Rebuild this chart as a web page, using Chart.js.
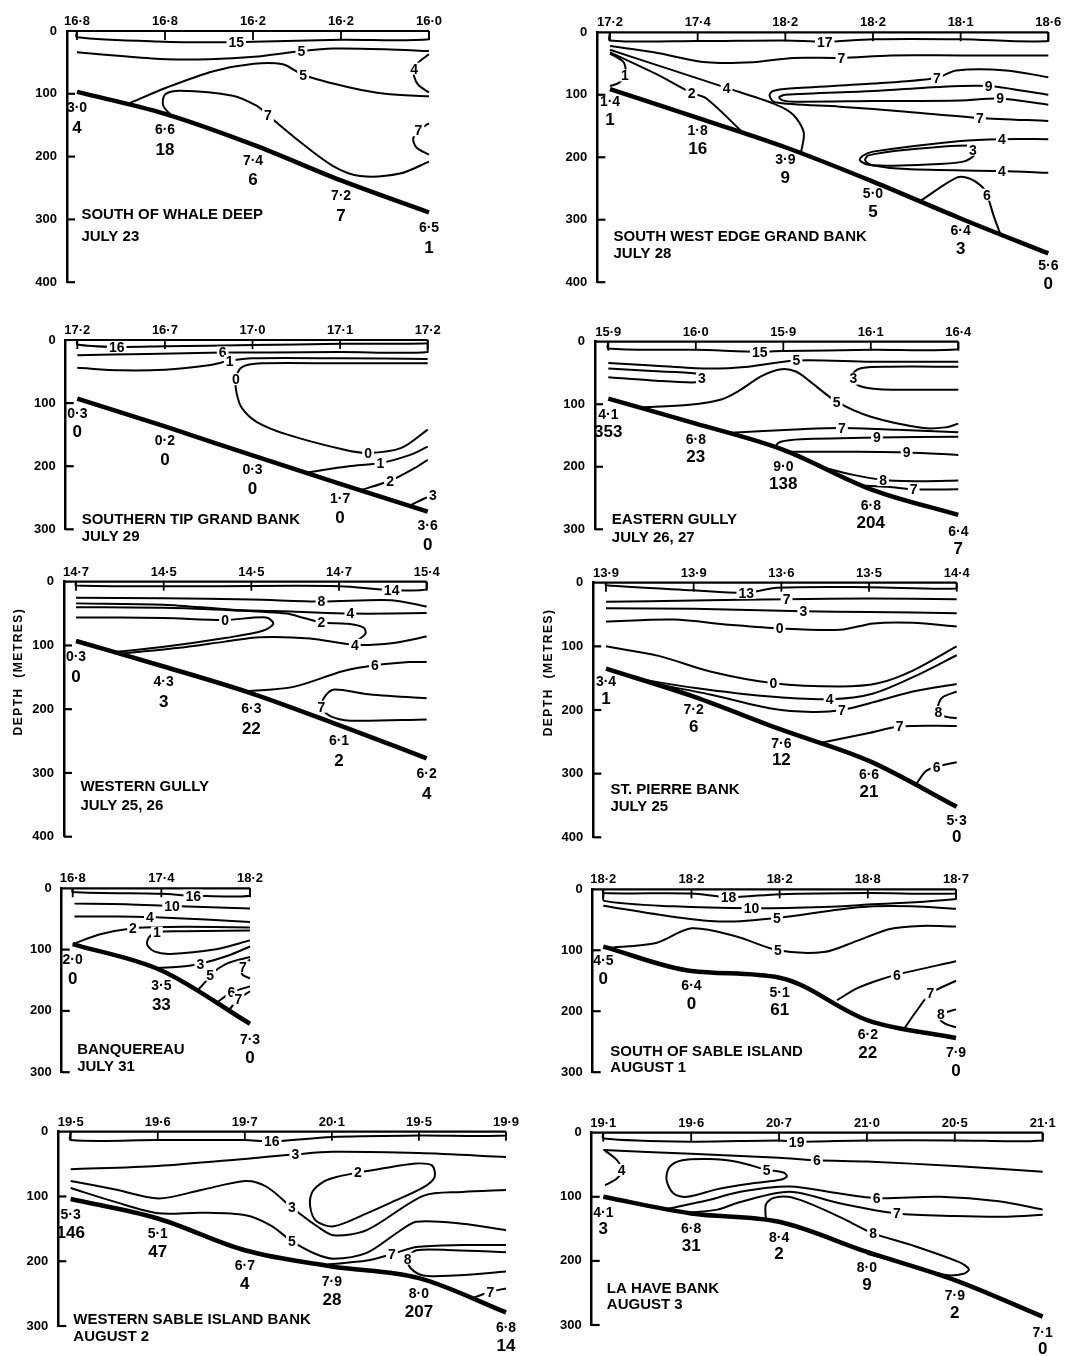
<!DOCTYPE html>
<html>
<head>
    <meta charset="utf-8">
    <title>Temperature sections</title>
    <script src="https://cdn.jsdelivr.net/npm/chart.js"></script>
    <style>
        body { margin: 0; background: #fff; }
        #page { position: relative; width: 1078px; height: 1356px; background: #fff; }
        canvas { position: absolute; }
    </style>
</head>
<body>
<div id="page"></div>
<script>
// South of Whale Deep
const whaleSurface = ['16·8', '16·8', '16·2', '16·2', '16·0'];
const whaleBottom = [97, 132, 181, 238, 289];
const whaleTemp = ['3·0', '6·6', '7·4', '7·2', '6·5'];
const whaleCount = ['4', '18', '6', '7', '1'];
const whaleLines = [
    {v: '15', at: [3], pts: [[0,0],[0,10],[1,17],[1.81,18],[2,17],[3,14],[4,13],[4,0]]},
    {v: '5', at: [5], pts: [[0,34],[0.5,40],[1.02,45],[1.5,45],[2.01,41],[2.55,32],[2.91,28],[3.5,29],[4,32]]},
    {v: '4', at: [2], pts: [[4,37],[3.88,50],[3.83,60],[3.83,72],[3.88,86],[4,98]]},
    {v: '5', at: [5], pts: [[0.58,116],[1.02,90],[1.55,64],[2.01,52],[2.34,53],[2.57,70],[3.1,90],[3.5,100],[4,104]]},
    {v: '7', at: [6], pts: [[1.09,137],[0.98,119],[1.0,101],[1.17,95],[1.77,103],[2.04,119],[2.17,134],[2.53,176],[2.91,215],[3.22,231],[3.67,227],[4,208]]},
    {v: '7', at: [1], pts: [[4,147],[3.88,158],[3.82,172],[3.86,186],[4,197]]}
];

// South West Edge Grand Bank
const swSurface = ['17·2', '17·4', '18·2', '18·2', '18·1', '18·6'];
const swBottom = [91, 137, 184, 239, 298, 354];
const swTemp = ['1·4', '1·8', '3·9', '5·0', '6·4', '5·6'];
const swCount = ['1', '16', '9', '5', '3', '0'];
const swLines = [
    {v: '17', at: [4], pts: [[0,0],[0,13],[1,14],[2,13],[2.45,15],[3,11],[4,11],[5,14],[5,0]]},
    {v: '7', at: [5], pts: [[0,22],[0.5,32],[1.1,48],[1.63,48],[2.09,41],[2.64,41],[3.2,37],[4,37],[5,37]]},
    {v: '1', at: [3], pts: [[0,34],[0.15,47],[0.18,60],[0.17,69],[0.1,81],[0,86]]},
    {v: '4', at: [2], pts: [[0,28],[0.72,61],[1.33,89],[1.88,115],[2.09,132],[2.21,160],[2.18,192]]},
    {v: '2', at: [2], pts: [[0,32],[0.53,67],[0.93,97],[1.1,106],[1.52,161]]},
    {v: '7', at: [3, 11], pts: [[5,72],[4.52,61],[3.95,61],[3.73,73],[3.0,82],[2.05,90],[1.86,94],[1.82,101],[1.88,112],[2.62,119],[3.38,127],[4.22,137],[5,142]]},
    {v: '9', at: [2, 11], pts: [[5,100],[4.6,91],[4.32,86],[3.8,87],[3.0,94],[2.0,100],[1.93,104],[1.97,109],[2.1,111],[3.0,110],[4.0,109],[4.45,106],[5,116]]},
    {v: '4', at: [1, 8], pts: [[5,171],[4.47,171],[4.0,174],[3.0,191],[2.88,198],[2.85,205],[2.95,212],[3.38,219],[4.47,222],[5,225]]},
    {v: '3', at: [0], pts: [[4.14,188],[4.09,181],[3.38,188],[2.95,197],[2.91,205],[3.0,213],[3.57,212],[4.03,207],[4.16,196],[4.14,188]]},
    {v: '6', at: [4], pts: [[3.54,270],[3.95,233],[4.1,234],[4.25,248],[4.3,260],[4.38,295],[4.45,322]]}
];

// Southern Tip Grand Bank
const stSurface = ['17·2', '16·7', '17·0', '17·1', '17·2'];
const stBottom = [93, 137, 183, 228, 272];
const stTemp = ['0·3', '0·2', '0·3', '1·7', '3·6'];
const stCount = ['0', '0', '0', '0', '0'];
const stLines = [
    {v: '16', at: [2], pts: [[0,0],[0,7],[0.45,11],[1,10],[2,8],[3,6],[4,5],[4,0]]},
    {v: '6', at: [2], pts: [[0,24],[0.8,22],[1.66,20],[2.2,20],[3,19],[4,19],[4,6]]},
    {v: '1', at: [4], pts: [[0,44],[0.5,48],[1,47],[1.5,40],[1.74,33],[2,29],[3,29],[4,30]]},
    {v: '0', at: [4, 10], pts: [[4,37],[3,37],[2.1,37],[1.88,43],[1.81,62],[1.82,85],[1.88,108],[2.05,130],[2.4,150],[3.05,174],[3.32,179],[3.7,171],[4,142]]},
    {v: '1', at: [2], pts: [[2.62,210],[3.1,200],[3.46,195],[3.8,182],[4,169]]},
    {v: '2', at: [1], pts: [[3.23,238],[3.57,223],[3.85,203],[4,190]]},
    {v: '3', at: [2], pts: [[3.8,262],[3.95,252],[4.06,246]]}
];

// Eastern Gully
const egSurface = ['15·9', '16·0', '15·9', '16·1', '16·4'];
const egBottom = [91, 131, 173, 236, 277];
const egTemp = ['4·1', '6·8', '9·0', '6·8', '6·4'];
const egCount = ['353', '23', '138', '204', '7'];
const egLines = [
    {v: '15', at: [3], pts: [[0,0],[0,11],[1,13],[1.73,16],[2,15],[3,13],[4,12],[4,0]]},
    {v: '5', at: [4], pts: [[0,34],[0.5,38],[1.12,43],[1.6,40],[2.15,30],[3,32],[4,32]]},
    {v: '3', at: [3], pts: [[0,43],[0.5,47],[1.0,51],[1.07,59],[1.0,65],[0.5,62],[0,57]]},
    {v: '3', at: [4], pts: [[4,40],[3.2,40],[2.9,42],[2.8,50],[2.8,59],[2.86,70],[3.1,76],[4,77]]},
    {v: '5', at: [8], pts: [[0.36,105],[0.93,101],[1.3,92],[1.5,78],[1.75,55],[1.98,44],[2.15,48],[2.3,63],[2.61,96],[3.0,120],[3.6,138],[3.85,137],[4,131]]},
    {v: '7', at: [2], pts: [[1.35,146],[2.2,140],[2.67,138],[3.3,141],[4,145]]},
    {v: '9', at: [1], pts: [[4,152],[3.07,153],[2.2,156],[1.97,160],[1.92,166],[1.96,172]]},
    {v: '9', at: [2], pts: [[2.05,176],[2.8,176],[3.41,177],[4,181]]},
    {v: '8', at: [2], pts: [[2.4,199],[2.8,213],[3.14,221],[3.6,223],[4,222]]},
    {v: '7', at: [2], pts: [[2.9,230],[3.2,232],[3.49,236],[4,236]]}
];

// Western Gully
const wgSurface = ['14·7', '14·5', '14·5', '14·7', '15·4'];
const wgBottom = [93, 133, 175, 225, 277];
const wgTemp = ['0·3', '4·3', '6·3', '6·1', '6·2'];
const wgCount = ['0', '3', '22', '2', '4'];
const wgLines = [
    {v: '14', at: [4], pts: [[0,0],[0,6],[1.5,7],[3,7],[3.6,13],[4,12],[4,0]]},
    {v: '8', at: [3], pts: [[0,25],[1,26],[2,28],[2.8,31],[3.6,29],[4,39]]},
    {v: '4', at: [4], pts: [[0,34],[1,36],[1.79,44],[2.5,47],[3.13,50],[3.6,50],[4,49]]},
    {v: '2', at: [5], pts: [[0,40],[1,41],[1.8,45],[2.4,50],[2.6,57],[2.8,64],[3.1,66],[3.28,72],[3.3,82],[3.15,97]]},
    {v: '0', at: [2], pts: [[0,56],[1,57],[1.7,60],[2.17,56],[2.25,66],[2.13,77],[1.72,88],[0.96,103],[0.46,110]]},
    {v: '4', at: [5], pts: [[0.5,113],[1.15,104],[1.7,94],[2.1,87],[2.67,89],[3.18,99],[3.62,96],[4,86]]},
    {v: '6', at: [3], pts: [[1.95,172],[2.48,165],[3.05,140],[3.41,131],[3.8,126],[4,126]]},
    {v: '7', at: [4], pts: [[4,183],[3.3,176],[2.95,169],[2.85,178],[2.8,196],[2.9,211],[3.13,218],[4,216]]}
];

// St. Pierre Bank
const spSurface = ['13·9', '13·9', '13·6', '13·5', '14·4'];
const spBottom = [135, 179, 231, 280, 352];
const spTemp = ['3·4', '7·2', '7·6', '6·6', '5·3'];
const spCount = ['1', '6', '12', '21', '0'];
const spLines = [
    {v: '13', at: [3], pts: [[0,0],[0,4],[1,12],[1.6,16],[1.95,8],[3,7],[4,9],[4,0]]},
    {v: '7', at: [2], pts: [[0,30],[1,28],[2.06,26],[3,25],[4,26]]},
    {v: '3', at: [2], pts: [[0,40],[1,41],[2.25,45],[3,46],[4,48]]},
    {v: '0', at: [3], pts: [[0,61],[0.77,58],[1.4,66],[1.98,72],[2.67,74],[3.05,64],[3.5,63],[4,69]]},
    {v: '0', at: [3], pts: [[0,100],[0.6,115],[1.2,140],[1.91,158],[2.67,163],[3.1,158],[3.5,138],[4,100]]},
    {v: '4', at: [3], pts: [[0.4,152],[1,165],[1.8,178],[2.55,183],[3.05,174],[3.6,142],[4,114]]},
    {v: '7', at: [4], pts: [[0.5,157],[1.2,176],[1.9,198],[2.35,203],[2.69,200],[3.1,186],[3.5,171],[4,159]]},
    {v: '8', at: [3], pts: [[4,171],[3.84,180],[3.79,192],[3.79,203],[3.86,210],[4,213]]},
    {v: '7', at: [2], pts: [[2.44,252],[3.0,236],[3.35,226],[4,225]]},
    {v: '6', at: [2], pts: [[3.54,316],[3.65,296],[3.77,289],[4,282]]}
];

// Banquereau
const bqSurface = ['16·8', '17·4', '18·2'];
const bqBottom = [91, 134, 221];
const bqTemp = ['2·0', '3·5', '7·3'];
const bqCount = ['0', '33', '0'];
const bqLines = [
    {v: '16', at: [3], pts: [[0,0],[0,6],[1,9],[1.36,12],[2,12],[2,0]]},
    {v: '10', at: [2], pts: [[0.02,25],[0.6,26],[1.12,29],[2,33]]},
    {v: '4', at: [2], pts: [[0.02,46],[0.5,46],[0.87,47],[1.5,51],[2,55]]},
    {v: '2', at: [2], pts: [[0,91],[0.31,75],[0.68,65],[1.06,63],[1.6,63],[2,64]]},
    {v: '1', at: [2], pts: [[2,69],[1.2,70],[0.95,72],[0.86,80],[0.84,92],[0.92,103],[1.1,107],[1.6,100],[2,85]]},
    {v: '3', at: [2], pts: [[0.91,130],[1.2,128],[1.44,123],[1.75,110],[2,95]]},
    {v: '5', at: [2], pts: [[1.4,168],[1.5,152],[1.55,141],[1.75,122],[2,112]]},
    {v: '7', at: [1], pts: [[2,116],[1.92,128],[1.91,140],[2,147]]},
    {v: '6', at: [1], pts: [[1.62,187],[1.79,170],[2,160]]},
    {v: '7', at: [1], pts: [[1.76,199],[1.87,181],[2,168]]}
];

// South of Sable Island
const ssSurface = ['18·2', '18·2', '18·2', '18·8', '18·7'];
const ssBottom = [94, 134, 145, 215, 244];
const ssTemp = ['4·5', '6·4', '5·1', '6·2', '7·9'];
const ssCount = ['0', '0', '61', '22', '0'];
const ssLines = [
    {v: '18', at: [3], pts: [[0,0],[0,6],[1,7],[1.42,13],[2,8],[3,6],[4,7],[4,0]]},
    {v: '10', at: [3], pts: [[0,6],[0.01,19],[0.8,28],[1.68,31],[2.5,29],[3,25],[4,16],[4,7]]},
    {v: '5', at: [3], pts: [[0,27],[0.79,45],[1.36,53],[1.97,47],[2.68,33],[3.06,28],[3.5,28],[4,32]]},
    {v: '5', at: [4], pts: [[0.04,96],[0.6,88],[1.0,64],[1.5,77],[1.98,100],[2.5,103],[2.87,85],[3.25,65],[3.6,60],[4,61]]},
    {v: '6', at: [3], pts: [[2.65,182],[2.87,163],[3.1,150],[3.33,140],[4,118]]},
    {v: '7', at: [2], pts: [[3.42,227],[3.55,200],[3.71,171],[4,150]]},
    {v: '8', at: [1], pts: [[4,197],[3.83,205],[3.82,214],[3.9,222],[4,226]]}
];

// Western Sable Island Bank
const wsSurface = ['19·5', '19·6', '19·7', '20·1', '19·5', '19·9'];
const wsBottom = [104, 134, 183, 208, 226, 279];
const wsTemp = ['5·3', '5·1', '6·7', '7·9', '8·0', '6·8'];
const wsCount = ['146', '47', '4', '28', '207', '14'];
const wsLines = [
    {v: '16', at: [4], pts: [[0,0],[0,13],[1,13],[2,13],[2.31,15],[3,8],[4,6],[5,6],[5,0]]},
    {v: '3', at: [3], pts: [[0,58],[1,53],[2,42],[2.58,35],[3,31],[4,33],[5,39]]},
    {v: '2', at: [0], pts: [[3.3,63],[3.7,54],[3.97,49],[4.15,52],[4.18,70],[4.05,86],[3.7,108],[3.4,126],[3.02,146],[2.82,138],[2.75,115],[2.78,92],[2.92,76],[3.05,70],[3.3,63]]},
    {v: '3', at: [6], pts: [[0,76],[0.5,89],[1.01,103],[1.5,90],[2.01,76],[2.25,85],[2.54,117],[2.83,146],[3.02,160],[3.4,152],[4.05,99],[4.5,93],[5,90]]},
    {v: '5', at: [6], pts: [[0,87],[0.5,108],[1.01,126],[1.5,125],[2.01,129],[2.3,145],[2.54,169],[2.8,188],[3.02,196],[3.4,187],[3.75,156],[3.97,139],[4.5,142],[5,152]]},
    {v: '7', at: [2], pts: [[2.95,205],[3.4,199],[3.69,189],[3.97,178],[4.5,175],[5,175]]},
    {v: '8', at: [3], pts: [[5,186],[4.4,183],[3.97,183],[3.87,196],[3.9,210],[4.05,222],[4.4,222],[5,216]]},
    {v: '7', at: [1], pts: [[4.62,257],[4.82,247],[5,242]]}
];

// La Have Bank
const lhSurface = ['19·1', '19·6', '20·7', '21·0', '20·5', '21·1'];
const lhBottom = [100, 126, 139, 186, 230, 287];
const lhTemp = ['4·1', '6·8', '8·4', '8·0', '7·9', '7·1'];
const lhCount = ['3', '31', '2', '9', '2', '0'];
const lhLines = [
    {v: '19', at: [4], pts: [[0,0],[0,9],[1,14],[2,12],[2.2,14],[3,12],[4,12],[5,12],[5,0]]},
    {v: '6', at: [3], pts: [[0,27],[1,33],[2,39],[2.43,43],[3,45],[4,52],[5,61]]},
    {v: '4', at: [2], pts: [[0.02,28],[0.15,42],[0.21,58],[0.15,72],[0.02,82]]},
    {v: '5', at: [0], pts: [[1.86,58],[2.05,62],[2.09,68],[2.03,73],[1.7,79],[1.3,88],[0.95,100],[0.8,95],[0.72,74],[0.75,54],[0.9,43],[1.2,41],[1.5,45],[1.86,58]]},
    {v: '6', at: [5], pts: [[0.72,119],[1.2,105],[1.56,92],[2.12,84],[2.69,95],[3.11,102],[3.83,100],[4.5,107],[5,120]]},
    {v: '7', at: [5], pts: [[0.95,125],[1.3,120],[1.56,108],[2.12,92],[2.69,110],[3.34,126],[4,130],[4.6,131],[5,128]]},
    {v: '8', at: [6], pts: [[1.85,137],[1.85,112],[1.93,102],[2.1,100],[2.3,108],[2.7,132],[3.07,157],[3.5,175],[4.05,202],[4.16,213],[4.1,220],[3.9,222],[3.5,207],[3.0,189]]}
];

const FONT = '"Liberation Sans", Arial, sans-serif';

// rect = canvas box on the page, frame = [axis x, 0 m y, first station x, last station x, bottom y]
const panels = [
    {name: ['SOUTH OF WHALE DEEP', 'JULY 23'], nameAt: [0.05, 292, 328], yMax: 400,
     surface: whaleSurface, bottom: whaleBottom, temp: whaleTemp, count: whaleCount, lines: whaleLines,
     rect: [0, 0, 540, 300], frame: [67, 31, 77, 429, 286], dy: [16, 20]},
    {name: ['SOUTH WEST EDGE GRAND BANK', 'JULY 28'], nameAt: [0.04, 328, 355], yMax: 400,
     surface: swSurface, bottom: swBottom, temp: swTemp, count: swCount, lines: swLines,
     rect: [540, 0, 538, 300], frame: [597.3, 32.3, 610, 1048.3, 288.7], dy: [13, 18]},
    {name: ['SOUTHERN TIP GRAND BANK', 'JULY 29'], nameAt: [0.05, 285, 312], yMax: 300,
     surface: stSurface, bottom: stBottom, temp: stTemp, count: stCount, lines: stLines,
     rect: [0, 300, 540, 260], frame: [65.7, 340, 77.3, 427.7, 529.3], dy: [15, 19]},
    {name: ['EASTERN GULLY', 'JULY 26, 27'], nameAt: [0.04, 285, 314], yMax: 300,
     surface: egSurface, bottom: egBottom, temp: egTemp, count: egCount, lines: egLines,
     rect: [540, 300, 538, 260], frame: [595, 341.7, 608.3, 958.3, 529.3], dy: [17, 17]},
    {name: ['WESTERN GULLY', 'JULY 25, 26'], nameAt: [0.05, 322, 351], yMax: 400, yTitle: 141,
     surface: wgSurface, bottom: wgBottom, temp: wgTemp, count: wgCount, lines: wgLines,
     rect: [0, 560, 540, 300], frame: [64, 581.7, 76, 426.7, 836.7], dy: [16, 20]},
    {name: ['ST. PIERRE BANK', 'JULY 25'], nameAt: [0.05, 326, 352], yMax: 400, yTitle: 141,
     surface: spSurface, bottom: spBottom, temp: spTemp, count: spCount, lines: spLines,
     rect: [540, 560, 538, 300], frame: [593.3, 582.7, 606, 956.7, 837.3], dy: [14, 17]},
    {name: ['BANQUEREAU', 'JULY 31'], nameAt: [0.05, 264, 291], yMax: 300,
     surface: bqSurface, bottom: bqBottom, temp: bqTemp, count: bqCount, lines: bqLines,
     rect: [0, 860, 540, 230], frame: [61.7, 888.3, 72.7, 250, 1079.3], dy: [16, 19]},
    {name: ['SOUTH OF SABLE ISLAND', 'AUGUST 1'], nameAt: [0.08, 267, 293], yMax: 300,
     surface: ssSurface, bottom: ssBottom, temp: ssTemp, count: ssCount, lines: ssLines,
     rect: [540, 860, 538, 230], frame: [592.7, 889.3, 603.3, 956, 1080.7], dy: [15, 18]},
    {name: ['WESTERN SABLE ISLAND BANK', 'AUGUST 2'], nameAt: [0.03, 291, 317], yMax: 300,
     surface: wsSurface, bottom: wsBottom, temp: wsTemp, count: wsCount, lines: wsLines,
     rect: [0, 1090, 540, 266], frame: [58.3, 1131.7, 70.7, 506, 1326], dy: [16, 18]},
    {name: ['LA HAVE BANK', 'AUGUST 3'], nameAt: [0.04, 243, 269], yMax: 300,
     surface: lhSurface, bottom: lhBottom, temp: lhTemp, count: lhCount, lines: lhLines,
     rect: [540, 1090, 538, 266], frame: [591.7, 1132.7, 603.3, 1042.7, 1325], dy: [16, 17]}
];

const AXIS_W = 40;

function sectionPlugin(p) {
    return {
        id: 'section',
        afterDatasetsDraw(chart) {
            const {ctx, chartArea: a, scales: {x, y}} = chart;
            const seg = (x1, y1, x2, y2) => { ctx.beginPath(); ctx.moveTo(x1, y1); ctx.lineTo(x2, y2); ctx.stroke(); };
            ctx.save();
            ctx.strokeStyle = '#000';
            ctx.fillStyle = '#000';

            // sea surface line and station marks
            const y0 = y.getPixelForValue(0);
            const last = x.getPixelForValue(p.surface.length - 1);
            ctx.lineWidth = 2.2;
            seg(a.left, y0, last, y0);
            ctx.lineWidth = 1.8;
            p.surface.forEach((t, i) => {
                const px = x.getPixelForValue(i);
                seg(px, y0, px, y0 + 9);
            });

            // depth ticks point into the plot
            ctx.lineWidth = 2.2;
            for (let d = 100; d <= p.yMax; d += 100) {
                const py = y.getPixelForValue(d);
                seg(a.left, py, a.left + 8, py);
            }

            // surface temperatures
            ctx.font = 'bold 13px ' + FONT;
            ctx.textAlign = 'center';
            ctx.textBaseline = 'bottom';
            p.surface.forEach((t, i) => ctx.fillText(t, x.getPixelForValue(i), y0 - 3));

            // isotherm labels
            ctx.font = 'bold 14px ' + FONT;
            ctx.textBaseline = 'middle';
            p.lines.forEach(c => c.at.forEach(k => {
                const px = x.getPixelForValue(c.pts[k][0]);
                const py = y.getPixelForValue(c.pts[k][1]);
                const w = ctx.measureText(c.v).width;
                ctx.fillStyle = '#fff';
                ctx.fillRect(px - w / 2 - 2, py - 6, w + 4, 12);
                ctx.fillStyle = '#000';
                ctx.fillText(c.v, px, py + 1);
            }));

            // bottom temperature and catch under each station
            p.bottom.forEach((d, i) => {
                const px = x.getPixelForValue(i);
                const py = y.getPixelForValue(d) + p.dy[0];
                ctx.font = 'bold 14px ' + FONT;
                ctx.fillText(p.temp[i], px, py);
                ctx.font = 'bold 17px ' + FONT;
                ctx.fillText(p.count[i], px, py + p.dy[1]);
            });

            // section name and date
            ctx.font = 'bold 15px ' + FONT;
            ctx.textAlign = 'left';
            const tx = x.getPixelForValue(p.nameAt[0]);
            ctx.fillText(p.name[0], tx, y.getPixelForValue(p.nameAt[1]));
            ctx.fillText(p.name[1], tx, y.getPixelForValue(p.nameAt[2]));

            if (p.yTitle) {
                ctx.translate(a.left - 45, y.getPixelForValue(p.yTitle));
                ctx.rotate(-Math.PI / 2);
                ctx.textAlign = 'center';
                ctx.font = 'bold 12px ' + FONT;
                ctx.letterSpacing = '1.5px';
                ctx.fillText('DEPTH  (METRES)', 0, 0);
            }
            ctx.restore();
        }
    };
}

const page = document.getElementById('page');

panels.forEach(p => {
    const [cx, cy, cw, ch] = p.rect;
    const [axisX, topY, firstX, lastX, botY] = p.frame;
    const n = p.surface.length;
    const step = (lastX - firstX) / (n - 1);

    const cv = document.createElement('canvas');
    cv.width = cw;
    cv.height = ch;
    cv.style.left = cx + 'px';
    cv.style.top = cy + 'px';
    page.appendChild(cv);

    const datasets = [{
        data: p.bottom.map((d, i) => ({x: i, y: d})),
        borderColor: '#000',
        borderWidth: 4.5,
        pointRadius: 0,
        cubicInterpolationMode: 'monotone',
        clip: false
    }];
    p.lines.forEach(c => datasets.push({
        data: c.pts.map(([s, d]) => ({x: s, y: d})),
        borderColor: '#000',
        borderWidth: 2,
        pointRadius: 0,
        tension: 0.3,
        borderJoinStyle: 'round',
        clip: false
    }));

    new Chart(cv, {
        type: 'line',
        data: {datasets},
        options: {
            responsive: false,
            animation: false,
            layout: {
                padding: {
                    left: axisX - cx - AXIS_W,
                    top: topY - cy,
                    right: cx + cw - lastX,
                    bottom: cy + ch - botY
                }
            },
            plugins: {legend: {display: false}, tooltip: {enabled: false}},
            scales: {
                x: {type: 'linear', display: false, min: -(firstX - axisX) / step, max: n - 1},
                y: {
                    type: 'linear',
                    reverse: true,
                    min: 0,
                    max: p.yMax,
                    afterFit: s => { s.width = AXIS_W; },
                    grid: {display: false, drawTicks: false},
                    border: {display: true, color: '#000', width: 2.5},
                    ticks: {stepSize: 100, color: '#000', padding: 10, font: {family: FONT, size: 13, weight: 'bold'}}
                }
            }
        },
        plugins: [sectionPlugin(p)]
    });
});
</script>
</body>
</html>
